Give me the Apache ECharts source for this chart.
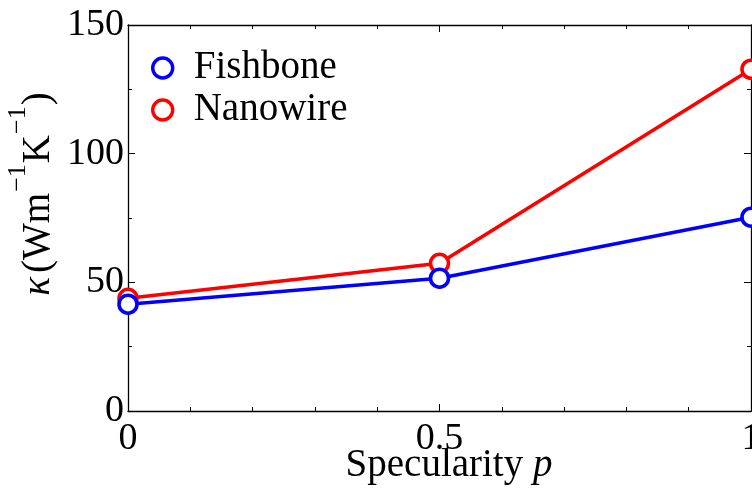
<!DOCTYPE html>
<html>
<head>
<meta charset="utf-8">
<script src="https://cdn.jsdelivr.net/npm/echarts@6/dist/echarts.min.js"></script>
<style>html,body{margin:0;padding:0;background:#fff}#c{width:752px;height:488px}</style>
</head>
<body>
<div id="c"></div>
<script>
const specularity = [0, 0.5, 1];
const fishbone = [41.5, 51.6, 75.3];
const nanowire = [43.8, 57.4, 132.8];
const seriesNames = ['Fishbone', 'Nanowire'];
const xTicks = [0, 0.5, 1];
const yTicks = [0, 50, 100, 150];

const FONT = 'Liberation Serif';
const chart = echarts.init(document.getElementById('c'), null, {renderer: 'canvas'});

function axisCommon(showLabel) {
  return {
    type: 'value',
    axisLine: {show: true, onZero: false, lineStyle: {color: '#000', width: 1.3}},
    axisTick: {show: true, inside: true, length: 7, lineStyle: {color: '#000', width: 1}},
    minorTick: {show: true, length: 4, lineStyle: {color: '#000', width: 1}},
    splitLine: {show: false},
    axisLabel: {show: showLabel, color: '#000', fontFamily: FONT, fontSize: 38},
  };
}

const option = {
  animation: false,
  backgroundColor: '#fff',
  grid: {left: 128, right: 1, top: 25, bottom: 77, containLabel: false, outerBoundsMode: 'none'},
  xAxis: [
    Object.assign(axisCommon(true), {position: 'bottom', min: 0, max: 1, interval: 0.5,
      minorTick: {show: true, splitNumber: 5, length: 4, lineStyle: {color: '#000', width: 1}},
      axisLabel: {show: true, color: '#000', fontFamily: FONT, fontSize: 38, margin: 9,
        formatter: v => String(v)}}),
    Object.assign(axisCommon(false), {position: 'top', min: 0, max: 1, interval: 0.5,
      minorTick: {show: true, splitNumber: 5, length: 4, lineStyle: {color: '#000', width: 1}}})
  ],
  yAxis: [
    Object.assign(axisCommon(true), {position: 'left', min: 0, max: 150, interval: 50,
      minorTick: {show: true, splitNumber: 2, length: 4, lineStyle: {color: '#000', width: 1}},
      axisLabel: {show: true, color: '#000', fontFamily: FONT, fontSize: 38, margin: 4}}),
    Object.assign(axisCommon(false), {position: 'right', min: 0, max: 150, interval: 50,
      minorTick: {show: true, splitNumber: 2, length: 4, lineStyle: {color: '#000', width: 1}}})
  ],
  legend: {
    orient: 'vertical', left: 146, top: 43, itemWidth: 20, itemHeight: 20, itemGap: 2,
    icon: 'circle',
    textStyle: {fontFamily: FONT, fontSize: 39, lineHeight: 40, color: '#000', padding: [0, 0, 0, 16]},
    data: [
      {name: seriesNames[0], itemStyle: {color: '#fff', borderColor: '#0000ff', borderWidth: 3.4}},
      {name: seriesNames[1], itemStyle: {color: '#fff', borderColor: '#ff0000', borderWidth: 3.4}}
    ]
  },
  series: [
    {
      name: seriesNames[1], type: 'line', z: 2,
      data: specularity.map((x, i) => [x, nanowire[i]]),
      symbol: 'circle', symbolSize: 18, showSymbol: true,
      lineStyle: {color: '#ff0000', width: 3.6},
      itemStyle: {color: '#fff', borderColor: '#ff0000', borderWidth: 3.6},
      clip: false
    },
    {
      name: seriesNames[0], type: 'line', z: 3,
      data: specularity.map((x, i) => [x, fishbone[i]]),
      symbol: 'circle', symbolSize: 18, showSymbol: true,
      lineStyle: {color: '#0000ff', width: 3.6},
      itemStyle: {color: '#fff', borderColor: '#0000ff', borderWidth: 3.6},
      clip: false
    }
  ],
  graphic: [
    {
      type: 'text', x: 32, y: 194, rotation: Math.PI / 2,
      style: {
        text: '{k|κ}{m|(Wm}{s|−1}{m|K}{s|−1}{m|)}',
        fontFamily: FONT, fontSize: 39, fill: '#000',
        align: 'center', verticalAlign: 'middle',
        rich: {
          k: {fontFamily: FONT, fontSize: 39, fontStyle: 'italic', padding: [14, 4, 0, 0], verticalAlign: 'bottom'},
          m: {fontFamily: FONT, fontSize: 39, padding: [14, 0, 0, 0], verticalAlign: 'bottom'},
          s: {fontFamily: FONT, fontSize: 26, verticalAlign: 'top', padding: [0, 1, 0, 1]}
        }
      }
    },
    {
      type: 'text', x: 449, y: 466,
      style: {
        text: 'Specularity {i|p}',
        fontFamily: FONT, fontSize: 39, fill: '#000',
        align: 'center', verticalAlign: 'middle',
        rich: {i: {fontFamily: FONT, fontSize: 39, fontStyle: 'italic'}}
      }
    }
  ]
};
chart.setOption(option);
</script>
</body>
</html>
